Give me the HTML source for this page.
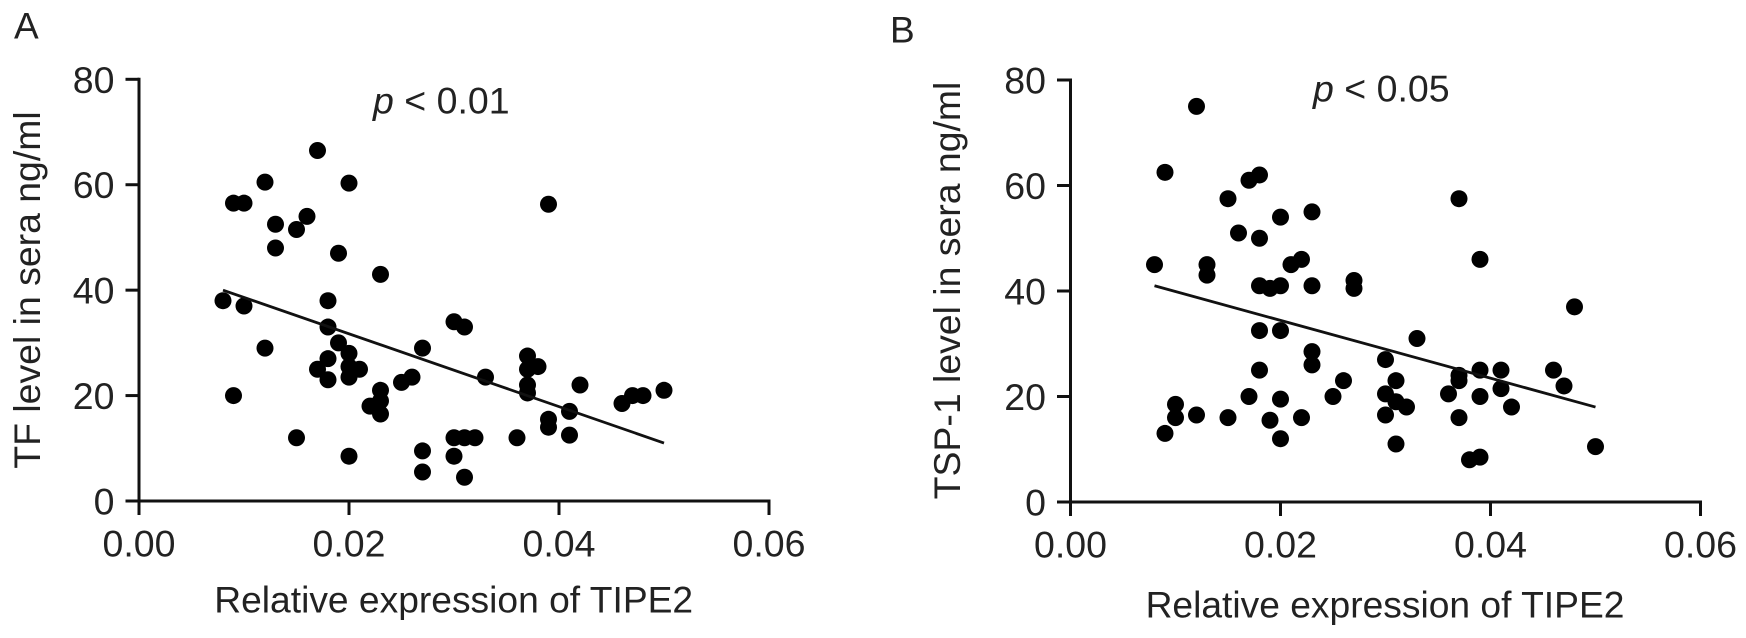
<!DOCTYPE html>
<html lang="en">
<head>
<meta charset="utf-8">
<title>TIPE2 correlation scatter plots</title>
<style>
html,body{margin:0;padding:0;background:#fff;}
svg{display:block;}
text{font-family:"Liberation Sans",Arial,sans-serif;fill:#222;}
</style>
</head>
<body>
<svg id="figure" xmlns="http://www.w3.org/2000/svg" width="1746" height="638" viewBox="0 0 1746 638"></svg>
<script>
const xTicks = [0, 0.02, 0.04, 0.06];
const yTicks = [0, 20, 40, 60, 80];
const xDomain = [0, 0.06];
const yDomain = [0, 80];

const panelAx = [0.008,0.009,0.010,0.009,0.010,0.012,0.012,0.013,0.013,0.015,0.016,0.015,0.017,0.017,0.018,0.018,0.018,0.018,0.019,0.019,0.020,0.020,0.020,0.020,0.020,0.021,0.022,0.023,0.023,0.023,0.023,0.025,0.026,0.027,0.027,0.027,0.030,0.030,0.030,0.031,0.031,0.031,0.032,0.033,0.036,0.037,0.037,0.037,0.037,0.038,0.039,0.039,0.039,0.041,0.041,0.042,0.046,0.047,0.048,0.050];
const panelAy = [38,56.5,56.5,20,37,60.5,29,52.5,48,51.5,54,12,66.5,25,38,33,27,23,47,30,60.3,28,25.5,23.5,8.5,25,18,43,21,19,16.5,22.5,23.5,29,9.5,5.5,34,12,8.5,33,12,4.5,12,23.5,12,27.5,25,22,20.5,25.5,56.3,15.5,14,17,12.5,22,18.5,20,20,21];
const panelAFitX = [0.008, 0.050];
const panelAFitY = [40, 11];

const panelBx = [0.008,0.009,0.009,0.010,0.010,0.012,0.012,0.013,0.013,0.015,0.015,0.016,0.017,0.017,0.018,0.018,0.018,0.018,0.018,0.019,0.019,0.020,0.020,0.020,0.020,0.020,0.021,0.022,0.022,0.023,0.023,0.023,0.023,0.025,0.026,0.027,0.027,0.030,0.030,0.030,0.031,0.031,0.031,0.032,0.033,0.036,0.037,0.037,0.037,0.037,0.038,0.039,0.039,0.039,0.039,0.041,0.041,0.042,0.046,0.047,0.048,0.050];
const panelBy = [45,62.5,13,18.5,16,75,16.5,45,43,57.5,16,51,61,20,62,50,41,32.5,25,40.5,15.5,54,41,32.5,19.5,12,45,46,16,55,41,28.5,26,20,23,42,40.5,27,20.5,16.5,23,19,11,18,31,20.5,57.5,24,23,16,8,46,25,20,8.5,25,21.5,18,25,22,37,10.5];
const panelBFitX = [0.008, 0.050];
const panelBFitY = [41, 18];

const NS = 'http://www.w3.org/2000/svg';
const svg = document.getElementById('figure');

function make(parent, tag, attrs, txt) {
  const el = document.createElementNS(NS, tag);
  for (const k in attrs) el.setAttribute(k, attrs[k]);
  if (txt !== undefined) el.textContent = txt;
  parent.appendChild(el);
  return el;
}

function drawPanel(cfg) {
  const g = make(svg, 'g', {});
  
  
  const sx = v => cfg.x0 + (v - xDomain[0]) / (xDomain[1] - xDomain[0]) * (cfg.x1 - cfg.x0);
  const sy = v => cfg.y0 + (v - yDomain[0]) / (yDomain[1] - yDomain[0]) * (cfg.y1 - cfg.y0);
  const stroke = {stroke: '#111', 'stroke-width': 3, fill: 'none'};

  const letter = make(g, 'text', {x: cfg.letterX, y: cfg.letterY, 'font-size': 37}, cfg.letter);
  
  

  const xAxis = make(g, 'line', Object.assign({x1: sx(xDomain[0]), x2: sx(xDomain[1]) + 1.5, y1: cfg.y0, y2: cfg.y0}, stroke));
  
  
  const yAxis = make(g, 'line', Object.assign({x1: cfg.x0, x2: cfg.x0, y1: cfg.y0 + 1, y2: sy(yDomain[1]) - 1.5}, stroke));
  
  

  xTicks.forEach(t => {
    const tick = make(g, 'line', Object.assign({x1: sx(t), x2: sx(t), y1: cfg.y0, y2: cfg.y0 + 14}, stroke));
    
    
    const lab = make(g, 'text', {x: sx(t), y: cfg.y0 + 55.5, 'font-size': 37.5, 'text-anchor': 'middle'}, t.toFixed(2));
    
    
  });
  yTicks.forEach(t => {
    const tick = make(g, 'line', Object.assign({x1: cfg.x0 - 13.5, x2: cfg.x0, y1: sy(t), y2: sy(t)}, stroke));
    
    
    const lab = make(g, 'text', {x: cfg.x0 - 24.5, y: sy(t) + 13.5, 'font-size': 37.5, 'text-anchor': 'end'}, String(t));
    
    
  });

  const xTitle = make(g, 'text', {x: cfg.xTitleX, y: cfg.xTitleY, 'font-size': 37.2, 'text-anchor': 'middle'}, 'Relative expression of TIPE2');
  
  
  const yTitle = make(g, 'text', {x: 0, y: 0, 'font-size': 37.4, 'text-anchor': 'middle', transform: 'translate(' + cfg.yTitleX + ',' + cfg.yTitleY + ') rotate(-90)'}, cfg.yTitle);
  
  

  const pLabel = make(g, 'text', {x: cfg.pX, y: cfg.pY, 'font-size': 37.5});
  
  
  make(pLabel, 'tspan', {'font-style': 'italic'}, 'p');
  make(pLabel, 'tspan', {}, ' < ' + cfg.p);

  cfg.xs.forEach((v, i) => {
    const dot = make(g, 'circle', {cx: sx(v), cy: sy(cfg.ys[i]), r: 8.5, fill: '#000'});
    
    
  });

  const fit = make(g, 'line', {x1: sx(cfg.fitX[0]), y1: sy(cfg.fitY[0]), x2: sx(cfg.fitX[1]), y2: sy(cfg.fitY[1]), stroke: '#111', 'stroke-width': 2.8});
  
  
}

drawPanel({id: 'panel-a', letter: 'A', letterX: 14, letterY: 38.5, x0: 139, x1: 769, y0: 501, y1: 79.3,
  xs: panelAx, ys: panelAy, fitX: panelAFitX, fitY: panelAFitY,
  xTitleX: 453.7, xTitleY: 612.3, yTitle: 'TF level in sera ng/ml', yTitleX: 40, yTitleY: 290,
  p: '0.01', pX: 373, pY: 113.3});
drawPanel({id: 'panel-b', letter: 'B', letterX: 890, letterY: 42.7, x0: 1070.5, x1: 1700.5, y0: 502, y1: 80,
  xs: panelBx, ys: panelBy, fitX: panelBFitX, fitY: panelBFitY,
  xTitleX: 1385, xTitleY: 617.7, yTitle: 'TSP-1 level in sera ng/ml', yTitleX: 960, yTitleY: 290.5,
  p: '0.05', pX: 1313, pY: 101.7});
</script>
</body>
</html>
